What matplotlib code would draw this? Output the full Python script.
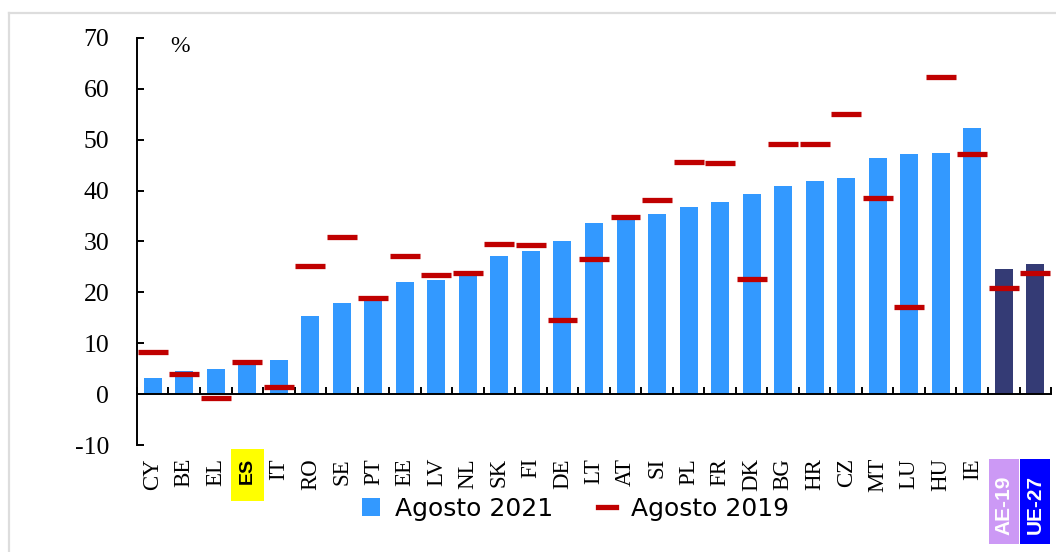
#!/usr/bin/env python3

import matplotlib

matplotlib.use("Agg")

import matplotlib.pyplot as plt
import numpy as np
from matplotlib.lines import Line2D
from matplotlib.patches import Patch, Rectangle
from matplotlib.transforms import blended_transform_factory

categories = ["CY", "BE", "EL", "ES", "IT", "RO", "SE", "PT", "EE", "LV", "NL", "SK",
              "FI", "DE", "LT", "AT", "SI", "PL", "FR", "DK", "BG", "HR", "CZ", "MT",
              "LU", "HU", "IE", "AE-19", "UE-27"]
aug_2021 = [3.2, 4.6, 5.0, 6.1, 6.7, 15.4, 18.0, 18.6, 22.1, 22.4, 23.4, 27.1,
            28.2, 30.0, 33.6, 34.6, 35.4, 36.7, 37.7, 39.3, 41.0, 41.9, 42.5, 46.5,
            47.1, 47.3, 52.3, 24.6, 25.6]
aug_2019 = [8.2, 3.9, -0.7, 6.4, 1.4, 25.1, 30.9, 18.8, 27.1, 23.5, 23.8, 29.6,
            29.3, 14.5, 26.5, 34.9, 38.1, 45.6, 45.4, 22.7, 49.1, 49.1, 55.0, 38.5,
            17.1, 62.3, 47.1, 20.8, 23.9]
y_ticks = [-10, 0, 10, 20, 30, 40, 50, 60, 70]

highlight = "ES"
aggregates = {"AE-19": "#CC99F5", "UE-27": "#0000FF"}

BLUE = "#3399FF"
NAVY = "#343B75"
RED = "#C00000"
SERIF = "Liberation Serif"
SANS = "Liberation Sans"


def main() -> None:
    fig = plt.figure(figsize=(10.56, 5.52), dpi=100)
    ax = fig.add_axes([0.1297, 0.1938, 0.8656, 0.7374])

    x = np.arange(len(categories))
    colors = [NAVY if c in aggregates else BLUE for c in categories]
    ax.bar(x, aug_2021, width=0.57, color=colors, zorder=2)
    ax.hlines(aug_2019, x - 0.475, x + 0.475, colors=RED, linewidth=3.8, zorder=3)

    ax.set_xlim(-0.5, len(categories) - 0.5)
    ax.set_ylim(-10, 70)

    # spines: left + zero line only
    for side in ("top", "right"):
        ax.spines[side].set_visible(False)
    ax.spines["bottom"].set_position(("data", 0))
    ax.spines["left"].set_linewidth(1.4)
    ax.spines["bottom"].set_linewidth(1.4)

    ax.set_yticks(y_ticks)
    ax.set_yticklabels([str(t) for t in y_ticks], fontfamily=SERIF, fontsize=18.5)
    ax.tick_params(axis="y", direction="in", length=5, width=1.4, pad=20)

    ax.set_xticks(x)
    ax.set_xticklabels(categories, rotation=90, fontfamily=SERIF, fontsize=16.5)
    ax.set_xticks(np.arange(len(categories) + 1) - 0.5, minor=True)
    ax.tick_params(axis="x", which="major", length=0, pad=46)
    ax.tick_params(axis="x", which="minor", direction="in", length=5, width=1.4)

    trans = blended_transform_factory(ax.transData, fig.transFigure)
    for i, lab in enumerate(ax.get_xticklabels()):
        name = categories[i]
        if name == highlight:
            lab.set_fontfamily(SANS)
            lab.set_fontweight("bold")
            lab.set_fontsize(14)
            ax.add_patch(Rectangle((i - 0.52, 1 - 501 / 552), 1.04, 52 / 552,
                                   transform=trans, facecolor="#FFFF00",
                                   edgecolor="none", clip_on=False, zorder=0.5))
        elif name in aggregates:
            lab.set_visible(False)
            ax.add_patch(Rectangle((i - 0.48, 1 - 544 / 552), 0.96, 85 / 552,
                                   transform=trans, facecolor=aggregates[name],
                                   edgecolor="none", clip_on=False, zorder=0.5))
            ax.text(i, 1 - 505 / 552, name, transform=trans, rotation=90,
                    ha="center", va="center", color="white", fontfamily=SANS,
                    fontweight="bold", fontsize=15, clip_on=False)

    fig.text(180 / 1056, 1 - 47 / 552, "%", fontfamily=SERIF, fontsize=17,
             ha="center", va="center")

    handles = [
        Patch(facecolor=BLUE, edgecolor="none", label="Agosto 2021"),
        Line2D([0], [0], color=RED, linewidth=3.8, label="Agosto 2019"),
    ]
    fig.legend(handles=handles, loc="center", bbox_to_anchor=(0.545, 0.078),
               ncol=2, frameon=False, prop={"family": "DejaVu Sans", "size": 18},
               handlelength=0.7, handleheight=0.7, handletextpad=0.6,
               columnspacing=1.8)

    # light frame at top and left, as in the source image
    fig.add_artist(Line2D([9 / 1056, 1], [1 - 13 / 552, 1 - 13 / 552],
                          transform=fig.transFigure, color="#DDDDDD", linewidth=1.6))
    fig.add_artist(Line2D([9 / 1056, 9 / 1056], [0, 1 - 13 / 552],
                          transform=fig.transFigure, color="#DDDDDD", linewidth=1.6))

    fig.savefig("out.png", dpi=100)


if __name__ == "__main__":
    main()
